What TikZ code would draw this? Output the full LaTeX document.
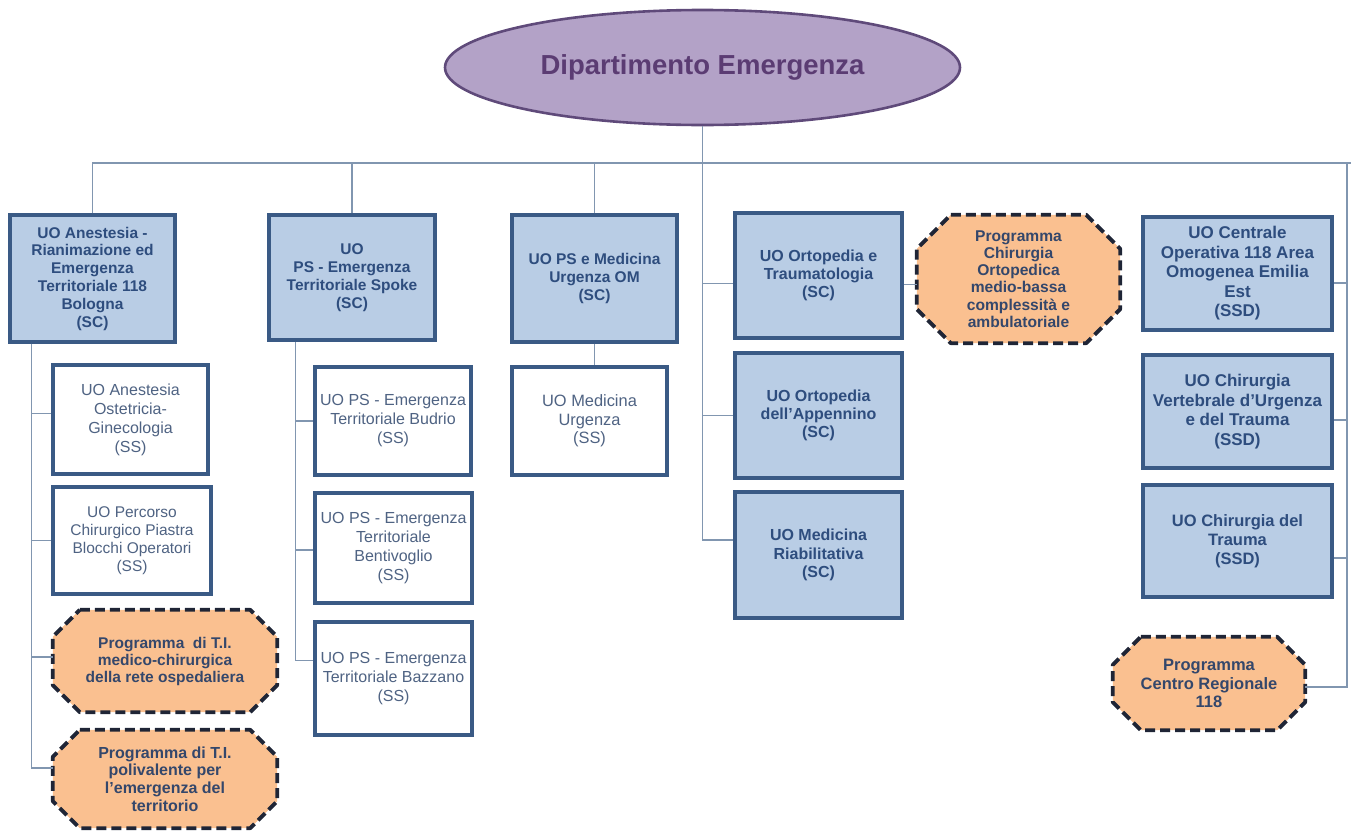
\documentclass[tikz,border=0pt]{standalone}
\usepackage{fontspec}
\setmainfont{Liberation Sans}
\usetikzlibrary{shapes.geometric,backgrounds}
\definecolor{lilac}{HTML}{B3A2C7}
\definecolor{lilacbd}{HTML}{5F4A7A}
\definecolor{lilactx}{HTML}{5B3C73}
\definecolor{bluefill}{HTML}{B9CDE5}
\definecolor{bluebd}{HTML}{3A5A85}
\definecolor{bluetx}{HTML}{2E4D7E}
\definecolor{graytx}{HTML}{4F6383}
\definecolor{orfill}{HTML}{FAC090}
\definecolor{orbd}{HTML}{1F2536}
\definecolor{ortx}{HTML}{34476B}
\definecolor{conncol}{HTML}{8196B0}
\tikzset{
  wh/.style 2 args={minimum width=#1pt, minimum height=#2pt},
  deptnode/.style={ellipse, draw=lilacbd, line width=2.6pt, fill=lilac, text=lilactx,
    font=\bfseries\fontsize{27.5}{31}\selectfont, inner sep=0pt},
  scbox/.style={rectangle, draw=bluebd, line width=3.3pt, fill=bluefill, text=bluetx,
    font=\bfseries\fontsize{15.5}{17.8}\selectfont, align=center, inner sep=2pt},
  bigr/.style={font=\bfseries\fontsize{17}{19.5}\selectfont},
  ssbox/.style={rectangle, draw=bluebd, line width=3.3pt, fill=white, text=graytx,
    font=\fontsize{16}{19}\selectfont, align=center, inner sep=2pt},
  progbox/.style={rectangle, text=ortx, font=\bfseries\fontsize{16}{17.6}\selectfont,
    align=center, inner sep=0pt},
  progline/.style={draw=orbd, fill=orfill, line width=3.8pt, dash pattern=on 10pt off 5pt,
    line join=round},
  conn/.style={draw=conncol, line width=1.3pt},
}
\newcommand\octo[2]{\draw[progline] ([xshift=#2pt]#1.north west) -- ([xshift=-#2pt]#1.north east)
  -- ([yshift=-#2pt]#1.north east) -- ([yshift=#2pt]#1.south east)
  -- ([xshift=-#2pt]#1.south east) -- ([xshift=#2pt]#1.south west)
  -- ([yshift=#2pt]#1.south west) -- ([yshift=-#2pt]#1.north west) -- cycle;}
\begin{document}
\begin{tikzpicture}[x=1pt,y=-1pt]
\useasboundingbox (0,0) rectangle (1351,830);
% top
\node[deptnode, wh={515}{115}] (dept) at (702.5,67.5) {Dipartimento Emergenza};
% column 1
\node[scbox, wh={165}{127}] (c1) at (92.5,278.5) {UO Anestesia -\\Rianimazione ed\\Emergenza\\Territoriale 118\\Bologna\\(SC)};
\node[ssbox, wh={155}{109}] (a1) at (130.5,419.5) {UO Anestesia\\Ostetricia-\\Ginecologia\\(SS)};
\node[ssbox, wh={158}{107}, font=\fontsize{15.5}{17.8}\selectfont] (a2) at (132,540.5) {UO Percorso\\Chirurgico Piastra\\Blocchi Operatori\\(SS)};
\node[progbox, wh={224}{102}, font=\bfseries\fontsize{15.5}{17}\selectfont] (a3) at (165,661) {Programma~ di T.I.\\medico-chirurgica\\della rete ospedaliera};
\node[progbox, wh={224}{98}] (a4) at (165,779) {Programma di T.I.\\polivalente per\\l'emergenza del\\territorio};
% column 2
\node[scbox, wh={166}{125}] (c2) at (352,277.5) {UO\\PS - Emergenza\\Territoriale Spoke\\(SC)};
\node[ssbox, wh={156}{108}] (b1) at (393,421) {UO PS - Emergenza\\Territoriale Budrio\\(SS)};
\node[ssbox, wh={157}{110}] (b2) at (393.5,548) {UO PS - Emergenza\\Territoriale\\Bentivoglio\\(SS)};
\node[ssbox, wh={157}{113}] (b3) at (393.5,678.5) {UO PS - Emergenza\\Territoriale Bazzano\\(SS)};
% column 3
\node[scbox, wh={165}{127}] (c3) at (594.5,278.5) {UO PS e Medicina\\Urgenza OM\\(SC)};
\node[ssbox, wh={155}{108}, font=\fontsize{16.4}{18.5}\selectfont] (m1) at (589.5,421) {UO Medicina\\Urgenza\\(SS)};
% column 4
\node[scbox, wh={167}{125}, font=\bfseries\fontsize{16}{18.3}\selectfont] (o1) at (818.5,275.5) {UO Ortopedia e\\Traumatologia\\(SC)};
\node[scbox, wh={167}{125}, font=\bfseries\fontsize{16}{18.3}\selectfont] (o2) at (818.5,415.5) {UO Ortopedia\\dell'Appennino\\(SC)};
\node[scbox, wh={167}{126}, font=\bfseries\fontsize{16}{18.3}\selectfont] (o3) at (818.5,555) {UO Medicina\\Riabilitativa\\(SC)};
\node[progbox, wh={203}{128}, font=\bfseries\fontsize{15.6}{17.3}\selectfont] (p1) at (1018.5,279) {Programma\\Chirurgia\\Ortopedica\\medio-bassa\\complessità e\\ambulatoriale};
% column 5
\node[scbox, bigr, wh={189}{113}] (r1) at (1237.5,273.5) {UO Centrale\\Operativa 118 Area\\Omogenea Emilia\\Est\\(SSD)};
\node[scbox, bigr, wh={189}{113}] (r2) at (1237.5,411.5) {UO Chirurgia\\Vertebrale d'Urgenza\\e del Trauma\\(SSD)};
\node[scbox, wh={189}{112}, font=\bfseries\fontsize{16.5}{19}\selectfont] (r3) at (1237.5,541) {UO Chirurgia del\\Trauma\\(SSD)};
\node[progbox, wh={192}{93}, font=\bfseries\fontsize{16.5}{18.5}\selectfont] (p5) at (1209,683.5) {Programma\\Centro Regionale\\118};
% octagon outlines behind their texts
\begin{scope}[on background layer]
\octo{a3}{27}
\octo{a4}{27}
\octo{p1}{34}
\octo{p5}{28}
\end{scope}
% connectors
\coordinate (bar) at (0,163);
\coordinate (barR) at (1351,163);
\draw[conn] (dept.south) -- (dept.south |- bar);
\draw[conn] (c1.north) -- (c1.north |- bar) -- (barR);
\draw[conn] (c2.north) -- (c2.north |- bar);
\draw[conn] (c3.north) -- (c3.north |- bar);
% column 1 tree
\coordinate (t1) at ([xshift=23pt]c1.south west);
\coordinate (e1) at ([yshift=6pt]a1.west);
\coordinate (e2) at (a2.west);
\coordinate (e3) at ([yshift=4pt]a3.west);
\coordinate (e4) at ([yshift=11pt]a4.west);
\draw[conn] (t1) -- (t1 |- e4) -- (e4);
\draw[conn] (t1 |- e1) -- (e1);
\draw[conn] (t1 |- e2) -- (e2);
\draw[conn] (t1 |- e3) -- (e3);
% column 2 tree
\coordinate (t2) at ([xshift=28pt]c2.south west);
\coordinate (f1) at (b1.west);
\coordinate (f2) at ([yshift=-2pt]b2.west);
\coordinate (f3) at ([yshift=18pt]b3.west);
\draw[conn] (t2) -- (t2 |- f3) -- (f3);
\draw[conn] (t2 |- f1) -- (f1);
\draw[conn] (t2 |- f2) -- (f2);
% column 3
\draw[conn] (c3.south) -- (c3.south |- m1.north);
% column 4 tree
\coordinate (q1) at ([yshift=-8pt]o1.west);
\coordinate (q2) at (o2.west);
\coordinate (q3) at ([yshift=15pt]o3.west);
\draw[conn] (dept.south |- bar) -- (dept.south |- q3) -- (q3);
\draw[conn] (dept.south |- q1) -- (q1);
\draw[conn] (dept.south |- q2) -- (q2);
\draw[conn] ([yshift=-9pt]o1.east) coordinate (ob) -- (ob -| p1.west);
% column 5 tree
\coordinate (rt) at (1347,163);
\coordinate (g1) at ([yshift=-9.5pt]r1.east);
\coordinate (g2) at ([yshift=-8.5pt]r2.east);
\coordinate (g3) at ([yshift=-17pt]r3.east);
\coordinate (g4) at ([yshift=-3.5pt]p5.east);
\draw[conn] (rt) -- (rt |- g4) -- (g4);
\draw[conn] (rt |- g1) -- (g1);
\draw[conn] (rt |- g2) -- (g2);
\draw[conn] (rt |- g3) -- (g3);
\end{tikzpicture}
\end{document}
